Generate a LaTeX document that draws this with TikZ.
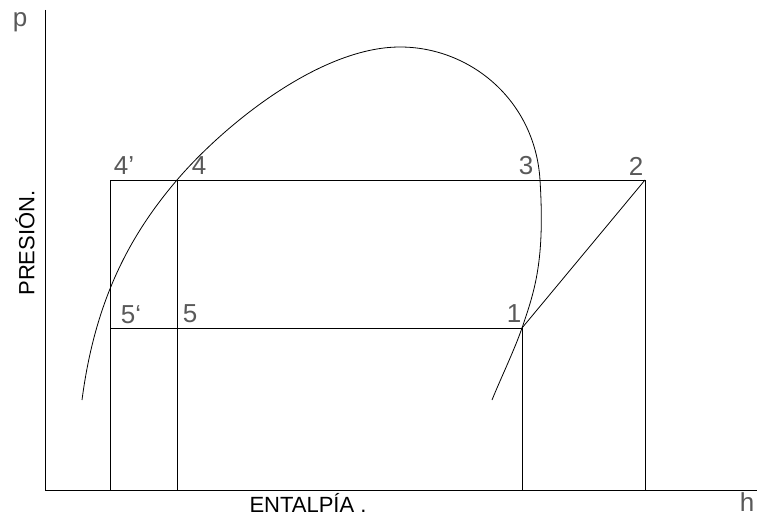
\documentclass[tikz,border=0pt]{standalone}
\usepackage{fontspec}
\setmainfont{Liberation Sans}
\begin{document}
\begin{tikzpicture}[x=1pt, y=-1pt, line width=0.8pt,
    lbl/.style={black!65, font=\fontsize{26}{28}\selectfont, inner sep=0pt},
    axlbl/.style={font=\fontsize{22}{24}\selectfont, inner sep=0pt}]
    \useasboundingbox (0,0) rectangle (757,516);
    % Assi
    \coordinate (o) at (45,490);
    \coordinate (ytop) at (45,10);
    \coordinate (xend) at (757,490);
    \draw (ytop) -- (o) -- (xend);
    % Punti del ciclo
    \coordinate (p4p) at (110,180);
    \coordinate (p4) at (177,180);
    \coordinate (p3) at (540,180);
    \coordinate (p2) at (645,180);
    \coordinate (p5p) at (110,328);
    \coordinate (p5) at (177,328);
    \coordinate (p1) at (522,328);
    \coordinate (b4p) at (110,490);
    \coordinate (b4) at (177,490);
    \coordinate (b1) at (522,490);
    \coordinate (b2) at (645,490);
    \coordinate (top) at (400,47);
    \coordinate (cs) at (82,400);
    \coordinate (ce) at (492,400);
    % Ciclo
    \draw (p4p) -- (p2) -- (b2);
    \draw (p4p) -- (b4p);
    \draw (p4) -- (b4);
    \draw (p5p) -- (p1) -- (b1);
    \draw (p1) -- (p2);
    % Campana
    \draw (cs) .. controls (95,300) and (130,235) .. (p4)
          .. controls (224,125) and (320,47) .. (top)
          .. controls (470,47) and (535,100) .. (p3)
          .. controls (545,260) and (535,290) .. (p1)
          .. controls (514,351) and (500,380) .. (ce);
    % Etichette
    \node[lbl] (l4p) at (124,166) {4'};
    \node[lbl] (l4) at (199,166) {4};
    \node[lbl] (l3) at (526,166) {3};
    \node[lbl] (l2) at (636,166) {2};
    \node[lbl] (l5p) at (131,315) {5`};
    \node[lbl] (l5) at (190,314) {5};
    \node[lbl] (l1) at (514,314) {1};
    \node[lbl] (lp) at (20,22) {p};
    \node[lbl] (lh) at (747,502) {h};
    \node[axlbl] (lx) at (308,503) {ENTALPÍA .};
    \node[axlbl, rotate=90] (ly) at (25,243) {PRESIÓN.};
\end{tikzpicture}
\end{document}
